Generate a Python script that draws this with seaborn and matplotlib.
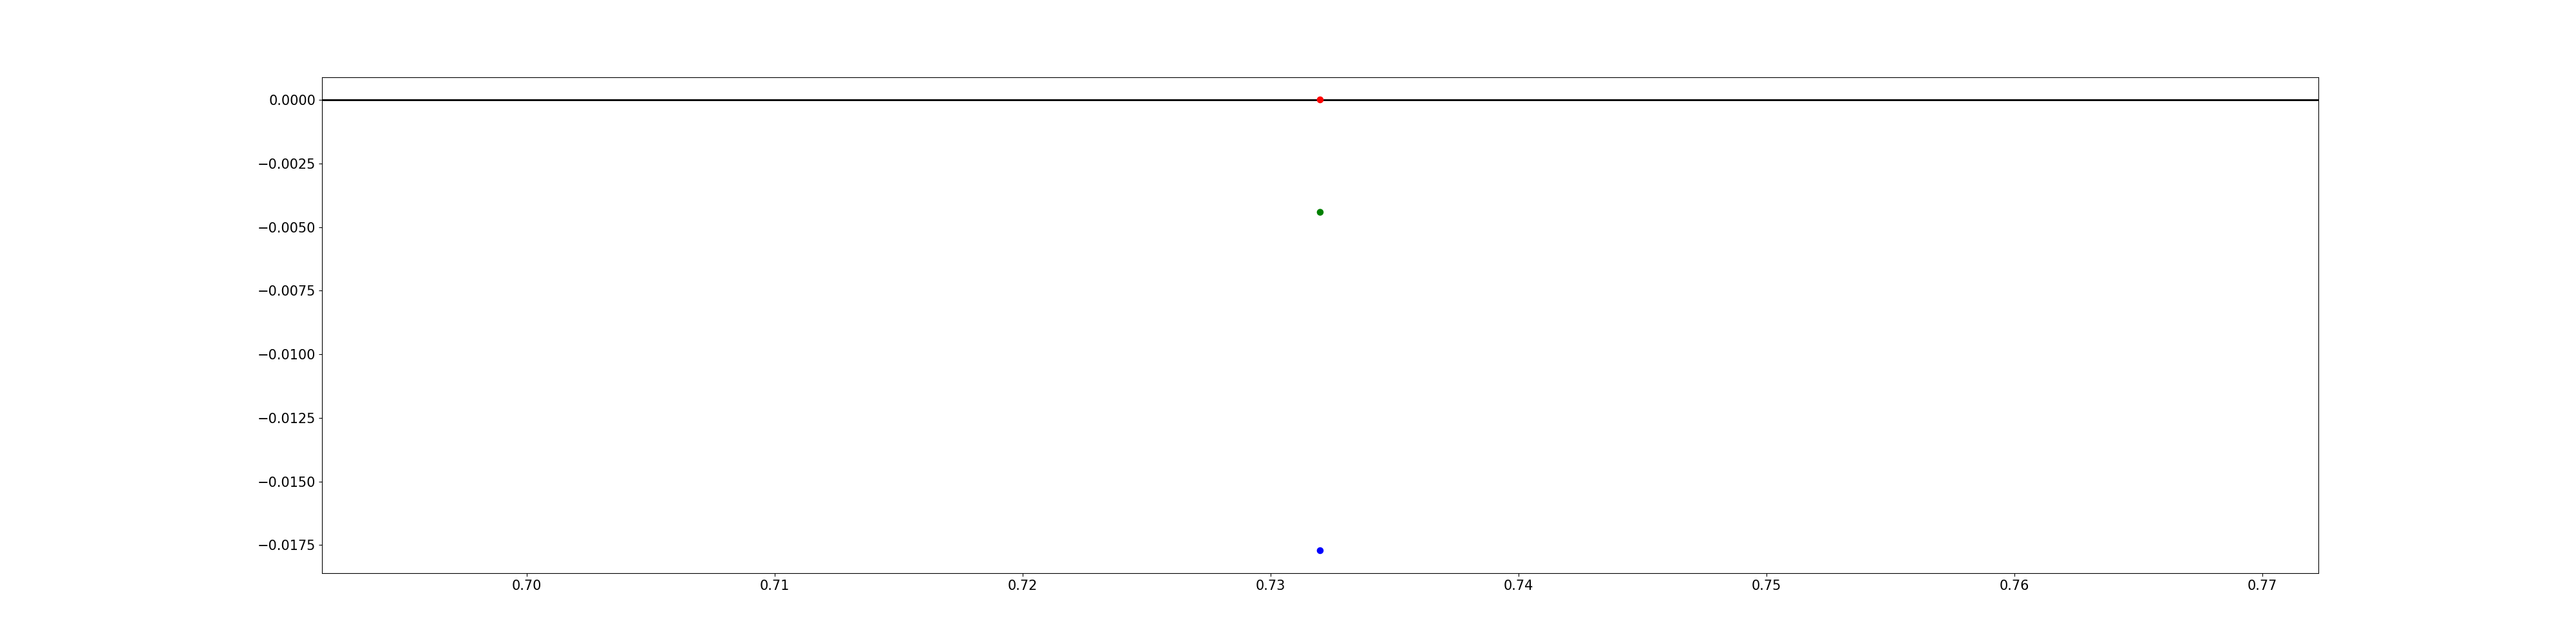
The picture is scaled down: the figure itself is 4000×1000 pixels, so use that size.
import matplotlib
matplotlib.use("Agg")
import matplotlib.pyplot as plt
import seaborn as sns
import pandas as pd

# data
series = ["red", "green", "blue"]
x_values = [0.732, 0.732, 0.732]
y_values = [0.0, -0.00442, -0.01772]
colors = {"red": "red", "green": "green", "blue": "blue"}

df = pd.DataFrame({"series": series, "x": x_values, "y": y_values})

fig, ax = plt.subplots(figsize=(40, 10), dpi=100)
ax.axhline(0, color="black", linewidth=2, zorder=1)
sns.scatterplot(data=df, x="x", y="y", hue="series", palette=colors,
                s=58, linewidth=0, legend=False, ax=ax, zorder=3)
ax.set_xlabel("")
ax.set_ylabel("")
ax.tick_params(labelsize=15)
fig.savefig("out.png", dpi=100)
